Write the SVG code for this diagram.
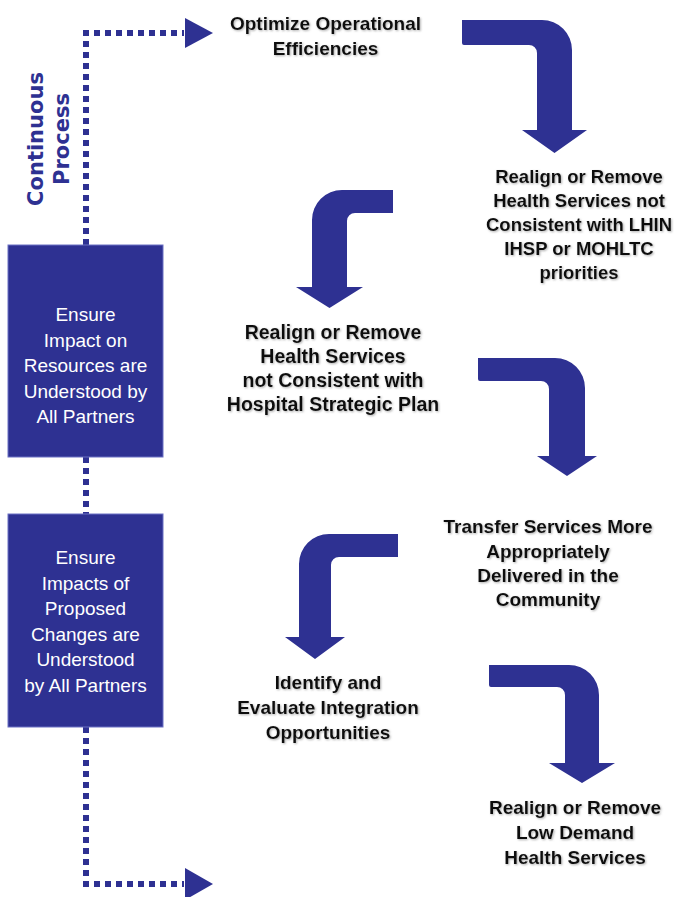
<svg xmlns="http://www.w3.org/2000/svg" width="674" height="897" viewBox="0 0 674 897">
<defs>
<style>
.dot{fill:none;stroke:#2E3192;stroke-width:6;stroke-dasharray:6 5}
.head{fill:#2E3192}
.bent{fill:#2E3192}
.box{fill:#2E3192;stroke:#6b70c4;stroke-width:1}
.bt{font-family:"Liberation Sans",Arial,sans-serif;font-size:19px;fill:#ffffff;text-anchor:middle}
.lbl{font-family:"Liberation Sans",Arial,sans-serif;font-weight:bold;fill:#111111;text-anchor:middle;filter:url(#sh)}
.cp{font-family:"DejaVu Sans",Verdana,sans-serif;font-weight:bold;font-size:21px;fill:#2E3192;text-anchor:middle}
</style>
<filter id="sh" x="-10%" y="-20%" width="120%" height="140%">
<feDropShadow dx="1" dy="1" stdDeviation="0.8" flood-color="#777777" flood-opacity="0.6"/>
</filter>
</defs>
<rect width="674" height="897" fill="#ffffff"/>

<g id="connectors">
<path class="dot" d="M86,245 V33 H184"/>
<polygon class="head" points="185,18 213,33 185,48"/>
<path class="dot" d="M86,457 V514"/>
<path class="dot" d="M86,727 V884 H184"/>
<polygon class="head" points="185,868 213,884 185,900"/>
<path class="bent" d="M462,20 H542 A30,30 0 0 1 572,50 V130 H587 L554.5,153 L522,130 H537 V53 A8,8 0 0 0 529,45 H464 A2,2 0 0 1 462,43 Z"/>
<path class="bent" d="M393,190 H342 A30,30 0 0 0 312,220 V287 H296 L329.5,308 L363,287 H347 V221 A8,8 0 0 1 355,213 H393 Z"/>
<path class="bent" d="M478,358 H555 A30,30 0 0 1 585,388 V456 H597 L567,476 L537,456 H549 V389 A8,8 0 0 0 541,381 H480 A2,2 0 0 1 478,379 Z"/>
<path class="bent" d="M398,534 H329 A30,30 0 0 0 299,564 V637 H285 L315,659 L345,637 H331 V565 A8,8 0 0 1 339,557 H398 Z"/>
<path class="bent" d="M489,665 H569 A30,30 0 0 1 599,695 V763 H615 L582,783 L549,763 H565 V695 A8,8 0 0 0 557,687 H491 A2,2 0 0 1 489,685 Z"/>
</g>

<g id="continuous-process">
<text class="cp" transform="translate(43,139) rotate(-90)">Continuous</text>
<text class="cp" transform="translate(69,139) rotate(-90)">Process</text>
</g>

<g id="box-resources">
<rect class="box" x="8" y="245" width="155" height="212"/>
<text class="bt" x="85.5" y="321">Ensure</text>
<text class="bt" x="85.5" y="346.5">Impact on</text>
<text class="bt" x="85.5" y="372">Resources are</text>
<text class="bt" x="85.5" y="397.5">Understood by</text>
<text class="bt" x="85.5" y="423">All Partners</text>
</g>

<g id="box-impacts">
<rect class="box" x="8" y="514" width="155" height="213"/>
<text class="bt" x="85.5" y="564">Ensure</text>
<text class="bt" x="85.5" y="589.5">Impacts of</text>
<text class="bt" x="85.5" y="615">Proposed</text>
<text class="bt" x="85.5" y="640.5">Changes are</text>
<text class="bt" x="85.5" y="666">Understood</text>
<text class="bt" x="85.5" y="691.5">by All Partners</text>
</g>

<g id="optimize">
<text class="lbl" font-size="19" x="325.5" y="30">Optimize Operational</text>
<text class="lbl" font-size="19" x="325.5" y="55">Efficiencies</text>
</g>

<g id="realign-lhin">
<text class="lbl" font-size="18.5" x="579" y="183">Realign or Remove</text>
<text class="lbl" font-size="18.5" x="579" y="207">Health Services not</text>
<text class="lbl" font-size="18.5" x="579" y="231">Consistent with LHIN</text>
<text class="lbl" font-size="18.5" x="579" y="255">IHSP or MOHLTC</text>
<text class="lbl" font-size="18.5" x="579" y="279">priorities</text>
</g>

<g id="realign-hospital">
<text class="lbl" font-size="19.5" x="333" y="339">Realign or Remove</text>
<text class="lbl" font-size="19.5" x="333" y="363">Health Services</text>
<text class="lbl" font-size="19.5" x="333" y="387">not Consistent with</text>
<text class="lbl" font-size="19.5" x="333" y="411">Hospital Strategic Plan</text>
</g>

<g id="transfer">
<text class="lbl" font-size="19" x="548" y="533">Transfer Services More</text>
<text class="lbl" font-size="19" x="548" y="558">Appropriately</text>
<text class="lbl" font-size="19" x="548" y="582">Delivered in the</text>
<text class="lbl" font-size="19" x="548" y="606">Community</text>
</g>

<g id="identify">
<text class="lbl" font-size="19" x="328" y="689">Identify and</text>
<text class="lbl" font-size="19" x="328" y="714">Evaluate Integration</text>
<text class="lbl" font-size="19" x="328" y="739">Opportunities</text>
</g>

<g id="low-demand">
<text class="lbl" font-size="19" x="575" y="814">Realign or Remove</text>
<text class="lbl" font-size="19" x="575" y="839">Low Demand</text>
<text class="lbl" font-size="19" x="575" y="864">Health Services</text>
</g>
</svg>
